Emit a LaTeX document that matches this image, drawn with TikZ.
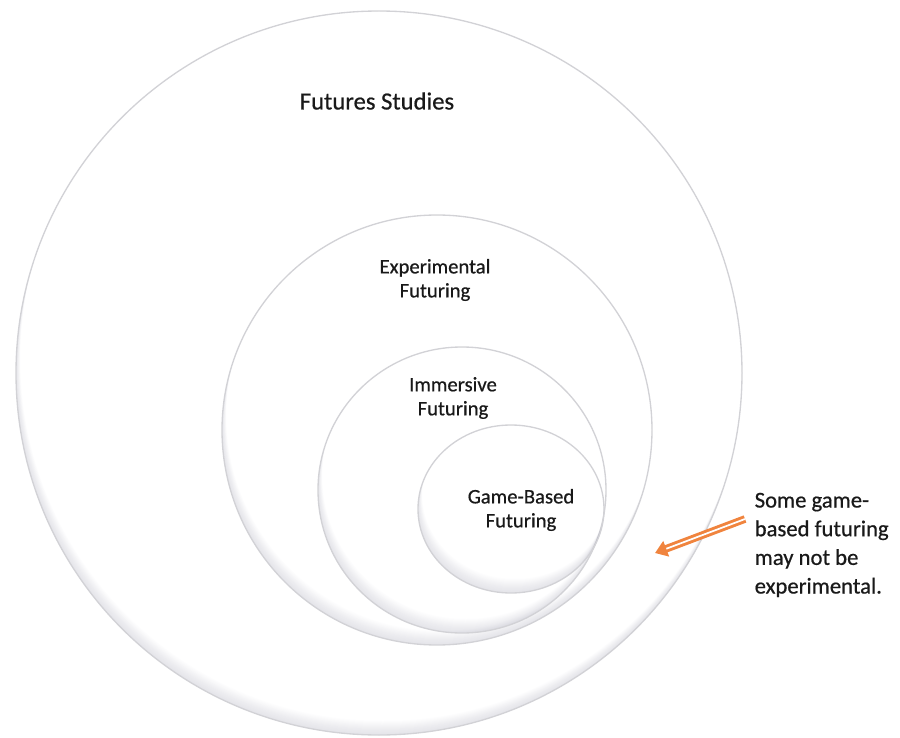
\documentclass[tikz,border=0pt]{standalone}
\usepackage{fontspec}
\setmainfont{Carlito}[FakeBold=0.6]
\usetikzlibrary{arrows.meta}

\definecolor{ringline}{RGB}{210,210,214}
\definecolor{ringshade}{RGB}{120,120,145}
\definecolor{notearrow}{RGB}{240,132,62}

\tikzset{
  ringlabel/.style={align=center, text=black!90, font=\fontsize{15.5}{18}\selectfont},
  notetext/.style={align=left, text=black!90, font=\fontsize{17}{21.5}\selectfont},
}

\begin{document}
\begin{tikzpicture}[x=0.75pt, y=-0.75pt]
    \useasboundingbox (0,0) rectangle (900,738);

    % Rings, shaded along the lower edge
    \foreach \cx/\cy/\rx/\ry in {379/373/363/362, 437/430/215/215, 462/490/144/143, 511/509/93/84} {
      \begin{scope}
        \clip (\cx,\cy) ellipse ({\rx} and {\ry});
        \foreach \s in {1,...,14}
          \fill[ringshade, opacity=0.016, even odd rule]
            (\cx,\cy) ellipse ({\rx} and {\ry}) (\cx+0.3*\s,\cy-\s) ellipse ({\rx} and {\ry});
      \end{scope}
      \draw[ringline, line width=1pt] (\cx,\cy) ellipse ({\rx} and {\ry});
    }

    % Labels
    \node[ringlabel, font=\fontsize{18.5}{22}\selectfont] (studies) at (377,101) {Futures Studies};
    \node[ringlabel] (experimental) at (435,280) {Experimental\\Futuring};
    \node[ringlabel] (immersive) at (453,398) {Immersive\\Futuring};
    \node[ringlabel] (gamebased) at (521,510) {Game-Based\\Futuring};

    % Side note
    \node[notetext, anchor=west] (note) at (750,545) {Some game-\\based futuring\\may not be\\experimental.};
    \coordinate (tail) at (745,519);
    \coordinate (tip) at (655,553);
    \draw[notearrow, double=white, double distance=1.3pt, line width=2.2pt,
          -{Triangle[length=9pt, width=12pt]}] (tail) -- (tip);
\end{tikzpicture}
\end{document}
